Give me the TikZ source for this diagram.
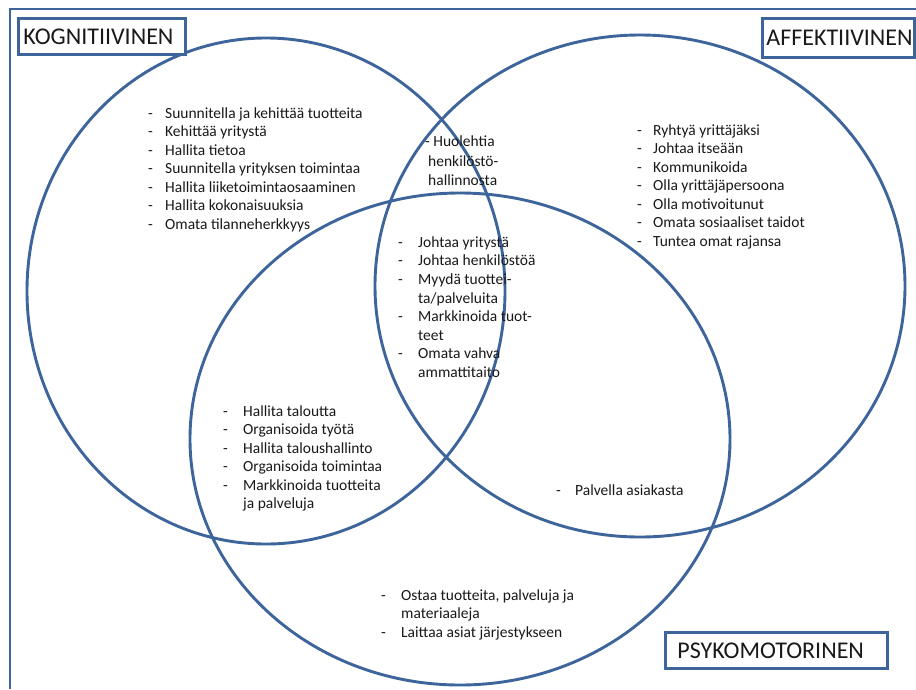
\documentclass[tikz,border=0pt]{standalone}
\usepackage{fontspec}
\setmainfont{Carlito}
\definecolor{vennblue}{RGB}{62,101,155}
\definecolor{inktext}{RGB}{25,25,25}
\begin{document}
\begin{tikzpicture}[x=1pt,y=-1pt,
  ring/.style={draw=vennblue,line width=2.9pt},
  frameline/.style={draw=vennblue,line width=2.9pt},
  labelbox/.style={draw=vennblue,line width=2.8pt,fill=white,anchor=north west,
    inner ysep=0pt,align=left,text=inktext,font=\fontsize{24}{27}\selectfont},
  itemlist/.style={anchor=north west,inner sep=0pt,text=inktext,
    font=\fontsize{15.5}{18.5}\selectfont}]
\useasboundingbox (0,0) rectangle (916,689);
\fill[white] (0,0) rectangle (916,689);

% outer frame (top and left edges)
\coordinate (frameBL) at (10,689);
\coordinate (frameTL) at (10,9);
\coordinate (frameTR) at (916,9);
\draw[frameline] (frameBL) -- (frameTL) -- (frameTR);

% the three overlapping sets
\draw[ring] (266,291) ellipse [x radius=239pt, y radius=253pt];
\draw[ring] (640,286) ellipse [x radius=265pt, y radius=251pt];
\draw[ring] (460,439) ellipse [x radius=270pt, y radius=246pt];

% set titles
\node[labelbox,text width=157pt,inner xsep=5pt,minimum height=36pt] (kog) at (17,17) {KOGNITIIVINEN};
\node[labelbox,text width=144pt,inner xsep=4pt,minimum height=39pt] (aff) at (761,17) {AFFEKTIIVINEN};
\node[labelbox,text width=198pt,inner xsep=12pt,minimum height=36pt] (psy) at (664,631) {PSYKOMOTORINEN};

% cognitive only
\node[itemlist] (listK) at (148,105) {\begin{tabular}{@{}p{17pt}@{}l@{}}
- & Suunnitella ja kehittää tuotteita\\
- & Kehittää yritystä\\
- & Hallita tietoa\\
- & Suunnitella yrityksen toimintaa\\
- & Hallita liiketoimintaosaaminen\\
- & Hallita kokonaisuuksia\\
- & Omata tilanneherkkyys
\end{tabular}};

% affective only
\node[itemlist] (listA) at (637,122) {\begin{tabular}{@{}p{16pt}@{}l@{}}
- & Ryhtyä yrittäjäksi\\
- & Johtaa itseään\\
- & Kommunikoida\\
- & Olla yrittäjäpersoona\\
- & Olla motivoitunut\\
- & Omata sosiaaliset taidot\\
- & Tuntea omat rajansa
\end{tabular}};

% cognitive and affective
\node[itemlist,font=\fontsize{15.5}{19.5}\selectfont] (listKA) at (425,133) {\begin{tabular}{@{}l@{}}
- Huolehtia\\
\hspace*{3pt}henkilöstö-\\
\hspace*{3pt}hallinnosta
\end{tabular}};

% all three
\node[itemlist,font=\fontsize{15.5}{18.6}\selectfont] (listKAP) at (398,234) {\begin{tabular}{@{}p{20pt}@{}l@{}}
- & Johtaa yritystä\\
- & Johtaa henkilöstöä\\
- & Myydä tuottei-\\
  & ta/palveluita\\
- & Markkinoida tuot-\\
  & teet\\
- & Omata vahva\\
  & ammattitaito
\end{tabular}};

% cognitive and psychomotor
\node[itemlist] (listKP) at (223,403) {\begin{tabular}{@{}p{20pt}@{}l@{}}
- & Hallita taloutta\\
- & Organisoida työtä\\
- & Hallita taloushallinto\\
- & Organisoida toimintaa\\
- & Markkinoida tuotteita\\
  & ja palveluja
\end{tabular}};

% affective and psychomotor
\node[itemlist] (listAP) at (556,482) {\begin{tabular}{@{}p{19pt}@{}l@{}}
- & Palvella asiakasta
\end{tabular}};

% psychomotor only
\node[itemlist] (listP) at (381,587) {\begin{tabular}{@{}p{20pt}@{}l@{}}
- & Ostaa tuotteita, palveluja ja\\
  & materiaaleja\\
- & Laittaa asiat järjestykseen
\end{tabular}};
\end{tikzpicture}
\end{document}
